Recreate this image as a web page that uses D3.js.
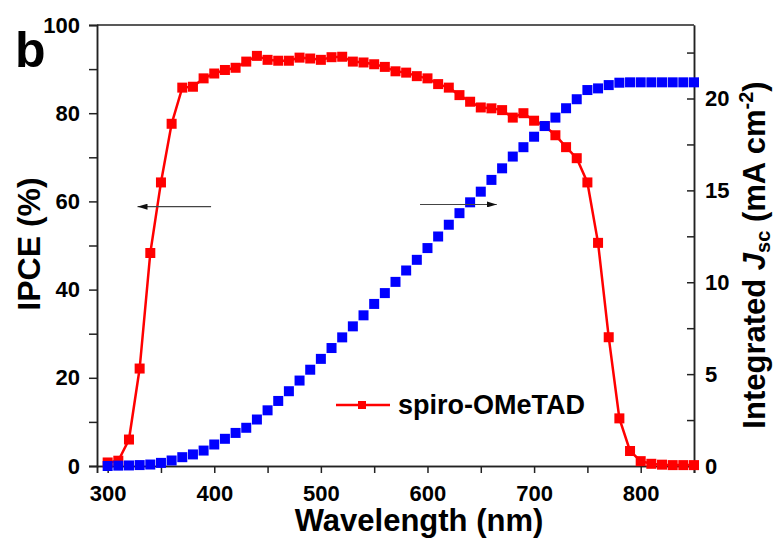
<!DOCTYPE html>
<html>
<head>
<meta charset="utf-8">
<title>IPCE and integrated Jsc</title>
<style>
body { margin:0; background:#fff; }
svg text { font-family:"Liberation Sans", Arial, sans-serif; font-weight:bold; fill:#000; }
</style>
<script src="https://cdn.jsdelivr.net/npm/d3@7/dist/d3.min.js"></script>
</head>
<body>
<div id="chart"></div>
<script>
// wavelengths (nm), one point every 10 nm
var wavelength = d3.range(300, 851, 10);

// IPCE (%)
var ipce = [0.8, 1.2, 6.0, 22.1, 48.3, 64.3, 77.6, 85.8, 86.0, 87.9,
            89.0, 89.8, 90.3, 91.7, 93.0, 92.1, 91.9, 91.9, 92.6, 92.4,
            92.1, 92.7, 92.8, 91.7, 91.5, 91.1, 90.5, 89.5, 89.2, 88.4,
            87.9, 86.6, 85.8, 84.1, 82.6, 81.3, 81.1, 80.7, 79.0, 80.0,
            78.3, 77.1, 75.0, 72.3, 69.8, 64.3, 50.6, 29.2, 10.8, 3.4,
            1.1, 0.5, 0.3, 0.2, 0.2, 0.2];

// integrated Jsc (mA cm-2)
var jsc = [0.00, 0.02, 0.03, 0.05, 0.08, 0.17, 0.30, 0.48, 0.63, 0.84,
           1.17, 1.48, 1.80, 2.08, 2.53, 3.03, 3.54, 4.07, 4.65, 5.24,
           5.83, 6.42, 7.00, 7.60, 8.20, 8.82, 9.41, 10.02, 10.64, 11.22,
           11.86, 12.49, 13.13, 13.76, 14.35, 14.93, 15.57, 16.20, 16.84, 17.35,
           17.92, 18.50, 18.96, 19.47, 19.96, 20.46, 20.55, 20.73, 20.86, 20.88,
           20.88, 20.88, 20.88, 20.88, 20.88, 20.88];

var seriesName = "spiro-OMeTAD";

var xTicks = [300, 400, 500, 600, 700, 800];
var xMinor = [350, 450, 550, 650, 750, 850];
var yTicks = [0, 20, 40, 60, 80, 100];
var yMinor = [10, 30, 50, 70, 90];
var y2Ticks = [0, 5, 10, 15, 20];
var y2Minor = [2.5, 7.5, 12.5, 17.5, 22.5];

// arrows telling which axis each curve belongs to: [from wl, to wl, IPCE level]
var arrows = [[397, 328, 58.8], [593, 665, 59.3]];

var width = 776, height = 538;
var margin = {top: 25, right: 82, bottom: 72, left: 97};

var svg = d3.select("#chart").append("svg")
    .attr("width", width)
    .attr("height", height);

svg.append("defs").append("marker")
    .attr("id", "head")
    .attr("viewBox", "0 0 10 6")
    .attr("refX", 10).attr("refY", 3)
    .attr("markerWidth", 10).attr("markerHeight", 6)
    .attr("markerUnits", "userSpaceOnUse")
    .attr("orient", "auto")
  .append("path")
    .attr("d", "M0,0L10,3L0,6Z")
    .attr("fill", "#111");

var x = d3.scaleLinear().domain([290, 850]).range([margin.left, width - margin.right]);
var y = d3.scaleLinear().domain([0, 100]).range([height - margin.bottom, margin.top]);
var y2 = d3.scaleLinear().domain([0, 24]).range([height - margin.bottom, margin.top]);

function styleAxis(g) {
    g.select(".domain").attr("stroke", "#222").attr("stroke-width", 1.5);
    g.selectAll(".tick line").attr("stroke", "#222").attr("stroke-width", 1.5);
    g.selectAll(".tick text").style("font-size", "22px");
}

var bottom = height - margin.bottom;

svg.append("g").attr("transform", "translate(0," + bottom + ")")
    .call(d3.axisBottom(x).tickValues(xTicks).tickSize(7).tickPadding(12))
    .call(styleAxis);
svg.append("g").attr("transform", "translate(0," + bottom + ")")
    .call(d3.axisBottom(x).tickValues(xMinor).tickSize(7).tickFormat(""))
    .call(styleAxis);

svg.append("g").attr("transform", "translate(" + margin.left + ",0)")
    .call(d3.axisLeft(y).tickValues(yTicks).tickSize(8).tickPadding(9))
    .call(styleAxis);
svg.append("g").attr("transform", "translate(" + margin.left + ",0)")
    .call(d3.axisLeft(y).tickValues(yMinor).tickSize(8).tickFormat(""))
    .call(styleAxis);

var right = width - margin.right;
svg.append("g").attr("transform", "translate(" + right + ",0)")
    .call(d3.axisRight(y2).tickValues(y2Ticks).tickSizeInner(-7).tickSizeOuter(0).tickPadding(11))
    .call(styleAxis);
svg.append("g").attr("transform", "translate(" + right + ",0)")
    .call(d3.axisRight(y2).tickValues(y2Minor).tickSizeInner(-7).tickSizeOuter(0).tickFormat(""))
    .call(styleAxis);

// top frame line
svg.append("line")
    .attr("x1", margin.left).attr("x2", right)
    .attr("y1", margin.top).attr("y2", margin.top)
    .attr("stroke", "#222").attr("stroke-width", 1.5);

var ipceData = wavelength.map(function(w, i) { return [w, ipce[i]]; });
var jscData = wavelength.map(function(w, i) { return [w, jsc[i]]; });

var line = d3.line()
    .x(function(d) { return x(d[0]); })
    .y(function(d) { return y(d[1]); });

svg.append("path")
    .datum(ipceData)
    .attr("d", line)
    .attr("fill", "none")
    .attr("stroke", "#ff0000")
    .attr("stroke-width", 2.5);

var sq = 10;
svg.selectAll("rect.ipce")
    .data(ipceData)
    .enter()
    .append("rect")
        .attr("class", "ipce")
        .attr("x", function(d) { return x(d[0]) - sq / 2; })
        .attr("y", function(d) { return y(d[1]) - sq / 2; })
        .attr("width", sq).attr("height", sq)
        .attr("fill", "#ff0000");

svg.selectAll("rect.jsc")
    .data(jscData)
    .enter()
    .append("rect")
        .attr("class", "jsc")
        .attr("x", function(d) { return x(d[0]) - sq / 2; })
        .attr("y", function(d) { return y2(d[1]) - sq / 2; })
        .attr("width", sq).attr("height", sq)
        .attr("fill", "#0000ff");

// arrows
svg.selectAll("line.arrow")
    .data(arrows)
    .enter()
    .append("line")
        .attr("class", "arrow")
        .attr("x1", function(d) { return x(d[0]); })
        .attr("x2", function(d) { return x(d[1]); })
        .attr("y1", function(d) { return y(d[2]); })
        .attr("y2", function(d) { return y(d[2]); })
        .attr("stroke", "#444")
        .attr("stroke-width", 1.2)
        .attr("marker-end", "url(#head)");

// legend
var lg = svg.append("g").attr("transform", "translate(336,405)");
lg.append("line").attr("x1", 0).attr("x2", 54).attr("y1", 0).attr("y2", 0)
    .attr("stroke", "#ff0000").attr("stroke-width", 2.5);
lg.append("rect").attr("x", 22).attr("y", -4).attr("width", 8).attr("height", 8)
    .attr("fill", "#ff0000");
lg.append("text").attr("x", 62).attr("y", 9).style("font-size", "27px").text(seriesName);

// panel letter
svg.append("text").attr("x", 15).attr("y", 67).style("font-size", "50px").text("b");

// axis titles
svg.append("text")
    .attr("x", 419).attr("y", 531)
    .attr("text-anchor", "middle")
    .style("font-size", "31px")
    .text("Wavelength (nm)");

svg.append("text")
    .attr("transform", "translate(40,244) rotate(-90)")
    .attr("text-anchor", "middle")
    .style("font-size", "32px")
    .text("IPCE (%)");

var t2 = svg.append("text")
    .attr("transform", "translate(765,255) rotate(-90)")
    .attr("text-anchor", "middle")
    .style("font-size", "31px");
t2.append("tspan").text("Integrated ");
t2.append("tspan").style("font-style", "italic").text("J");
t2.append("tspan").attr("dy", 5).style("font-size", "20px").text("sc");
t2.append("tspan").attr("dy", -5).text(" (mA cm");
t2.append("tspan").attr("dy", -12).style("font-size", "20px").text("-2");
t2.append("tspan").attr("dy", 12).text(")");
</script>
</body>
</html>
